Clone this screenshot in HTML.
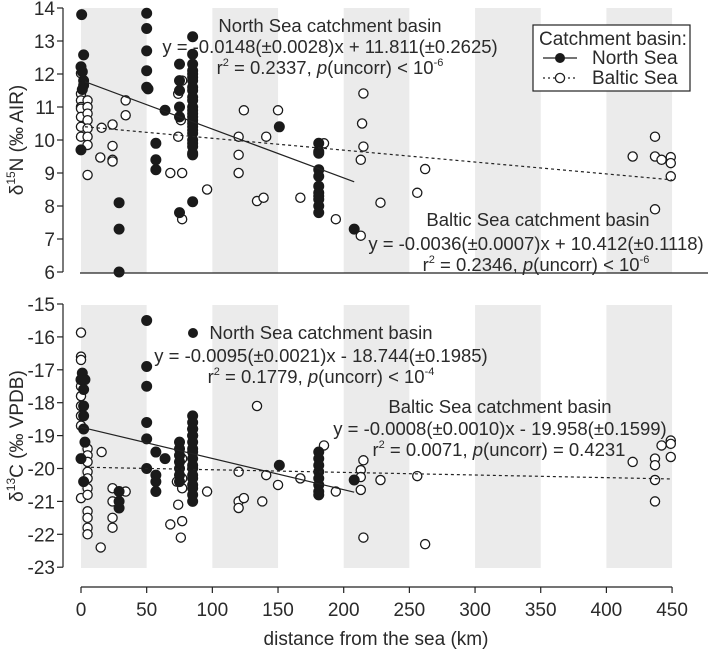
<!DOCTYPE html>
<html><head><meta charset="utf-8"><style>
body{margin:0;background:#fff;width:708px;height:650px;overflow:hidden;position:relative}
svg{display:block;font-family:"Liberation Sans",Arial,sans-serif}
</style></head><body>
<svg id="chart" width="708" height="650" viewBox="0 0 708 650" xmlns="http://www.w3.org/2000/svg"></svg>
<script>
// ---- data ----
const xTicks = [0,50,100,150,200,250,300,350,400,450];
const nTicks = [14,13,12,11,10,9,8,7,6];
const cTicks = [-15,-16,-17,-18,-19,-20,-21,-22,-23];
const bands = [0,100,200,300,400];
// top panel: d15N
const nNorthX = [0.5,2,0,1,2,2,1,0,29,29,29,50,50,50,50,50,51,64,57,57,57,85,85,85,85,85,85,85,85,85,85,85,85,85,85,85,85,85,85,85,85,85,85,85,85,85,85,75,75,75,75,75,75,151,181,181,181,181,181,181,181,181,181,181,181,208];
const nNorthY = [13.8,12.58,12.22,12.07,11.8,11.66,11.53,9.7,8.1,7.3,6.0,13.84,13.38,12.7,12.1,11.6,11.55,10.9,9.9,9.4,9.1,13.13,12.6,12.3,12.1,12.0,11.9,11.8,11.6,11.5,11.3,11.2,11.0,10.9,10.8,10.7,10.6,10.5,10.4,10.3,10.2,10.0,9.9,9.8,9.6,9.55,8.13,7.8,12.3,11.8,11.5,11.0,10.7,10.4,9.65,9.9,9.6,9.1,8.9,8.6,8.4,8.3,8.2,8.0,7.8,7.3,9.1];
const nBalticX = [0,0,0,0,0,0,0,0,5,5,5,5,5,5,5,5,15.7,14.7,24,24,24,24,34,34,77,74,76,74,68,77,77,96,124,120,120,120,141,150,134,139,167,185,194,215,214,215,213,213,228,256,262,420,437,437,442,449,449,449,437];
const nBalticY = [12.02,11.4,11.2,11.0,10.95,10.7,10.4,10.1,11.2,11.0,10.8,10.6,10.35,10.1,9.85,8.94,10.37,9.47,10.47,9.82,9.4,9.35,11.2,10.75,11.8,11.4,10.6,10.1,9.0,9.0,7.6,8.5,10.9,10.1,9.55,9.0,10.1,10.9,8.15,8.25,8.25,9.9,7.6,11.41,10.5,9.8,9.4,7.1,8.1,8.4,9.12,9.5,10.1,9.5,9.4,9.48,9.3,8.9,7.9];
// bottom panel: d13C
const cNorthX = [50,50,50,50,50,50,57,57,57,57,64,1,3,0,2,2,2,2,0,3,2,29,29,29,75,75,75,75,75,75,75,85,85,85,85,85,85,85,85,85,85,85,85,85,85,85,85,85,85,151,181,181,181,181,181,181,181,181,208];
const cNorthY = [-15.5,-16.9,-17.5,-18.6,-19.1,-20.0,-19.5,-20.2,-20.4,-20.7,-19.7,-17.1,-17.3,-17.3,-17.6,-18.1,-18.4,-18.8,-19.7,-19.2,-20.4,-20.7,-21.0,-21.2,-19.2,-19.4,-19.6,-19.8,-20.0,-20.2,-20.4,-18.4,-18.6,-18.8,-19.0,-19.2,-19.4,-19.5,-19.7,-19.9,-20.0,-20.2,-20.3,-20.5,-20.6,-20.8,-21.0,-19.0,-18.8,-19.9,-19.5,-19.7,-19.9,-20.1,-20.3,-20.5,-20.7,-20.8,-20.35];
const cBalticX = [0,0,0,0,0,0,0,0,0,0,5,5,5,5,5,5,5,5,5,5,5,15.7,15,24,24,24,24,34,77,77,73,77,74,77,68,76,96,120,120,124,120,134,141,150,138,167,185,194,215,213,213,213,228,256,215,262,420,437,437,437,437,442,449,449,449];
const cBalticY = [-15.87,-16.6,-16.7,-17.3,-17.5,-17.8,-18.1,-18.4,-18.7,-20.9,-19.4,-19.6,-19.8,-20.1,-20.3,-20.6,-20.8,-21.3,-21.5,-21.8,-22.0,-19.5,-22.4,-20.6,-21.0,-21.5,-21.8,-20.7,-19.7,-20.3,-20.4,-20.6,-21.1,-21.6,-21.7,-22.1,-20.7,-20.1,-21.0,-20.9,-21.2,-18.1,-20.2,-20.5,-21.0,-20.3,-19.3,-20.7,-19.75,-20.05,-20.26,-20.65,-20.35,-20.23,-22.1,-22.3,-19.8,-19.7,-19.9,-20.35,-21.0,-19.3,-19.15,-19.25,-19.65];
// regressions [slope, intercept, xStart, xEnd]
const nNorthFit = [-0.0148, 11.811, 3, 208];
const nBalticFit = [-0.0036, 10.412, 3, 450];
const cNorthFit = [-0.0095, -18.744, 0, 208];
const cBalticFit = [-0.0008, -19.958, 3, 450];

// ---- axes ----
const svg = document.getElementById('chart');
const NS = 'http://www.w3.org/2000/svg';
const sx = km => 81 + km * 1.3135;
const syN = v => 8 + (14 - v) * 33;
const syC = v => 304 + (-15 - v) * 32.9;
function mk(tag, attrs, parent) {
  const e = document.createElementNS(NS, tag);
  for (const k in attrs) e.setAttribute(k, attrs[k]);
  (parent || svg).appendChild(e);
  return e;
}
function txt(x, y, s, size, anchor, parent) {
  const t = mk('text', {x: x, y: y, 'font-size': size, 'text-anchor': anchor || 'middle', fill: '#2a2a2a'}, parent);
  t.textContent = s;
  return t;
}

function panel(name, sy, top, bottom, ticks, nx, ny, bx, by, fitN, fitB) {
  const g = mk('g', {});
  
  
  bands.forEach(b => {
    const r = mk('rect', {x: sx(b), y: top, width: sx(b + 50) - sx(b), height: bottom - top, fill: '#ebebeb'}, g);
    
    
  });
  const ax = mk('g', {}, g);
  
  
  mk('line', {x1: 63, x2: 63, y1: sy(ticks[0]), y2: sy(ticks[ticks.length - 1]), stroke: '#222', 'stroke-width': 1.2}, ax);
  ticks.forEach(t => {
    mk('line', {x1: 57, x2: 63, y1: sy(t), y2: sy(t), stroke: '#222', 'stroke-width': 1.2}, ax);
    const l = txt(55, sy(t) + 7, t, 19, 'end', ax);
    
    
  });
  function fit(f, dash, nm) {
    const l = mk('line', {x1: sx(f[2]), x2: sx(f[3]), y1: sy(f[1] + f[0] * f[2]), y2: sy(f[1] + f[0] * f[3]), stroke: '#222', 'stroke-width': 1.2, 'stroke-dasharray': dash}, g);
    
    
  }
  const ptsB = mk('g', {}, g);
  
  
  const ptsN = mk('g', {}, g);
  
  
  nx.forEach((x, i) => {
    const c = mk('circle', {cx: sx(x), cy: sy(ny[i]), r: 5, fill: '#1a1a1a', stroke: '#1a1a1a', 'stroke-width': 1}, ptsN);
    
    
  });
  bx.forEach((x, i) => {
    const c = mk('circle', {cx: sx(x), cy: sy(by[i]), r: 4.6, fill: '#fff', stroke: '#1a1a1a', 'stroke-width': 1.3}, ptsB);
    
    
  });
  fit(fitN, 'none', 'north-sea-fit-line');
  fit(fitB, '3,3', 'baltic-sea-fit-line');
  return g;
}

panel('d15n-panel', syN, 8, 273, nTicks, nNorthX, nNorthY, nBalticX, nBalticY, nNorthFit, nBalticFit);
const base = mk('line', {x1: 80, x2: 708, y1: 273, y2: 273, stroke: '#222', 'stroke-width': 1.2});


panel('d13c-panel', syC, 305, 568, cTicks, cNorthX, cNorthY, cBalticX, cBalticY, cNorthFit, cBalticFit);

// x axis
const xa = mk('g', {});


mk('line', {x1: sx(0), x2: sx(450), y1: 587, y2: 587, stroke: '#222', 'stroke-width': 1.2}, xa);
xTicks.forEach(t => {
  mk('line', {x1: sx(t), x2: sx(t), y1: 587, y2: 593, stroke: '#222', 'stroke-width': 1.2}, xa);
  const l = txt(sx(t), 616, t, 19, 'middle', xa);
  
  
});
</script>
<!-- static text -->
<svg style="position:absolute;left:0;top:0" width="708" height="650" xmlns="http://www.w3.org/2000/svg" font-family="Liberation Sans, Arial, sans-serif" fill="#2a2a2a">
  <text x="376" y="645" font-size="19" text-anchor="middle">distance from the sea (km)</text>
  <text transform="translate(23,140) rotate(-90)" font-size="19" text-anchor="middle">δ<tspan font-size="12" dy="-8">15</tspan><tspan dy="8">N (‰ AIR)</tspan></text>
  <text transform="translate(23,436) rotate(-90)" font-size="19" text-anchor="middle">δ<tspan font-size="12" dy="-8">13</tspan><tspan dy="8">C (‰ VPDB)</tspan></text>

  <g font-size="18.5" text-anchor="middle">
    <text x="330" y="32">North Sea catchment basin</text>
    <text x="330" y="53">y = -0.0148(±0.0028)x + 11.811(±0.2625)</text>
    <text x="330" y="74">r<tspan font-size="11" dy="-8">2</tspan><tspan dy="8"> = 0.2337, </tspan><tspan font-style="italic">p</tspan>(uncorr) &lt; 10<tspan font-size="11" dy="-8">-6</tspan></text>
  </g>
  <g font-size="18.5" text-anchor="middle">
    <text x="538" y="226">Baltic Sea catchment basin</text>
    <text x="536" y="250">y = -0.0036(±0.0007)x + 10.412(±0.1118)</text>
    <text x="536" y="271">r<tspan font-size="11" dy="-8">2</tspan><tspan dy="8"> = 0.2346, </tspan><tspan font-style="italic">p</tspan>(uncorr) &lt; 10<tspan font-size="11" dy="-8">-6</tspan></text>
  </g>
  <g>
    <rect x="533" y="25" width="157" height="66" fill="#fff" stroke="#222" stroke-width="1.2"/>
    <text x="539" y="45" font-size="19">Catchment basin:</text>
    <line x1="543" x2="577" y1="58" y2="58" stroke="#222" stroke-width="1.2"/>
    <circle cx="560" cy="58" r="5" fill="#1a1a1a"/>
    <text x="592" y="64" font-size="19">North Sea</text>
    <line x1="543" x2="577" y1="78" y2="78" stroke="#222" stroke-width="1.2" stroke-dasharray="2,3"/>
    <circle cx="560" cy="78" r="4.6" fill="#fff" stroke="#222" stroke-width="1.3"/>
    <text x="592" y="84" font-size="19">Baltic Sea</text>
  </g>

  <g font-size="18.5" text-anchor="middle">
    <circle cx="193" cy="333" r="5" fill="#1a1a1a"/>
    <text x="321" y="339">North Sea catchment basin</text>
    <text x="321" y="362">y = -0.0095(±0.0021)x - 18.744(±0.1985)</text>
    <text x="321" y="383">r<tspan font-size="11" dy="-8">2</tspan><tspan dy="8"> = 0.1779, </tspan><tspan font-style="italic">p</tspan>(uncorr) &lt; 10<tspan font-size="11" dy="-8">-4</tspan></text>
  </g>
  <g font-size="18.5" text-anchor="middle">
    <text x="500" y="413">Baltic Sea catchment basin</text>
    <text x="500" y="435">y = -0.0008(±0.0010)x - 19.958(±0.1599)</text>
    <text x="499" y="456">r<tspan font-size="11" dy="-8">2</tspan><tspan dy="8"> = 0.0071, </tspan><tspan font-style="italic">p</tspan>(uncorr) = 0.4231</text>
  </g>
</svg>
</body></html>
